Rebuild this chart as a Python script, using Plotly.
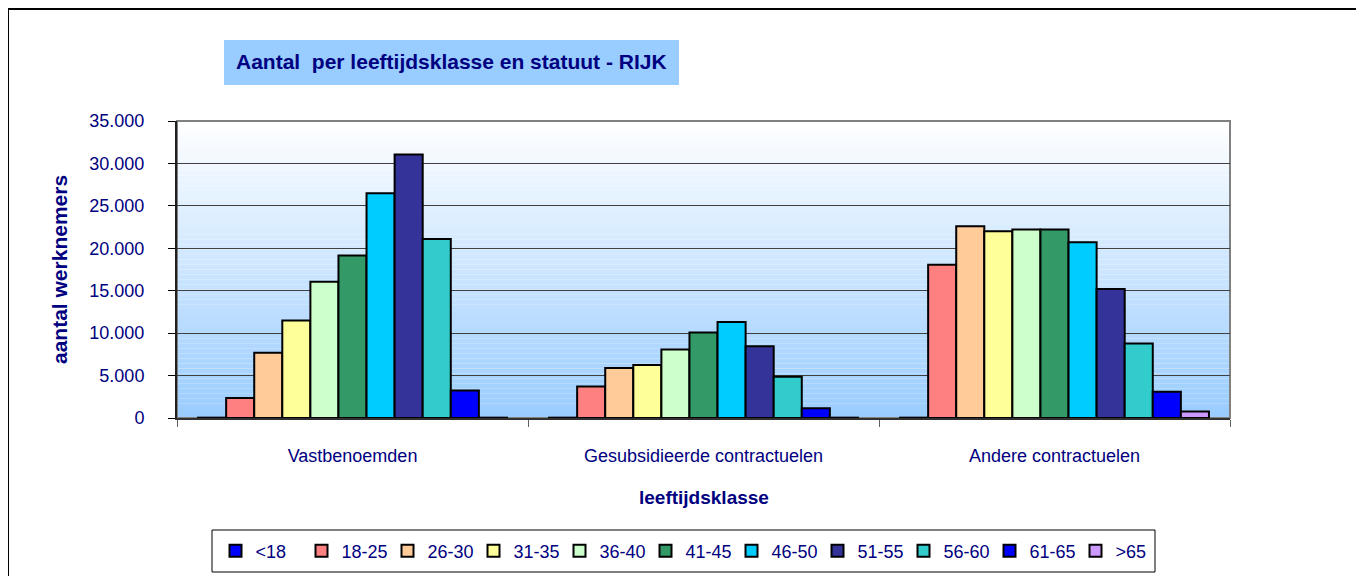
import plotly.graph_objects as go

categories = ["Vastbenoemden", "Gesubsidieerde contractuelen", "Andere contractuelen"]
age_classes = ["<18", "18-25", "26-30", "31-35", "36-40", "41-45", "46-50", "51-55", "56-60", "61-65", ">65"]
values = {
    "<18":   [40, 40, 40],
    "18-25": [2350, 3700, 18050],
    "26-30": [7700, 5900, 22600],
    "31-35": [11500, 6250, 22000],
    "36-40": [16050, 8080, 22200],
    "41-45": [19150, 10080, 22200],
    "46-50": [26500, 11300, 20700],
    "51-55": [31050, 8470, 15200],
    "56-60": [21100, 4870, 8780],
    "61-65": [3250, 1150, 3080],
    ">65":   [40, 40, 760],
}
colors = ["#0000FF", "#FF8080", "#FFCC99", "#FFFF99", "#CCFFCC", "#339966",
          "#00CCFF", "#333399", "#33CCCC", "#0000FF", "#CC99FF"]

OFF = 8  # page body margin
W, H = 1364, 576
L, R, T, B = 177, 1230, 121, 418
NAVY = "#000080"
FONT = "Arial, Liberation Sans, sans-serif"

def px2x(px):
    return (px - L) / (R - L)

def py2y(py):
    return (B - py) / (B - T)

fig = go.Figure()
for age, col in zip(age_classes, colors):
    fig.add_trace(go.Bar(
        name=age, x=categories, y=values[age],
        marker=dict(color=col, line=dict(color="black", width=2)),
    ))

shapes = []
n = 60
def lerp(a, b, t):
    return int(round(a + (b - a) * t))
for i in range(n):
    t = (i + 0.5) / n
    c = "rgb(%d,%d,%d)" % (lerp(255, 153, t), lerp(255, 204, t), lerp(255, 255, t))
    shapes.append(dict(type="rect", xref="x domain", yref="y domain",
                       x0=0, x1=1, y0=1 - (i + 1) / n, y1=1 - i / n,
                       fillcolor=c, line=dict(width=0), layer="below"))
shapes.append(dict(type="rect", xref="x domain", yref="y domain", x0=0, x1=1, y0=0, y1=1,
                   line=dict(color="#808080", width=2), layer="below"))
shapes.append(dict(type="rect", xref="paper", yref="paper",
                   x0=px2x(8), x1=px2x(1361), y0=py2y(640), y1=py2y(9),
                   line=dict(color="black", width=2)))
shapes.append(dict(type="rect", xref="paper", yref="paper",
                   x0=px2x(224), x1=px2x(679), y0=py2y(85), y1=py2y(40),
                   fillcolor="#99CCFF", line=dict(width=0)))
shapes.append(dict(type="rect", xref="paper", yref="paper",
                   x0=px2x(212), x1=px2x(1155), y0=py2y(572), y1=py2y(530),
                   fillcolor="white", line=dict(color="black", width=1)))

annotations = [
    dict(text="<b>Aantal  per leeftijdsklasse en statuut - RIJK</b>", xref="paper", yref="paper",
         x=px2x(452), y=py2y(62), showarrow=False, xanchor="center", yanchor="middle",
         font=dict(family=FONT, size=21, color=NAVY)),
    dict(text="<b>aantal werknemers</b>", xref="paper", yref="paper",
         x=px2x(59), y=py2y(270), showarrow=False, textangle=-90,
         xanchor="center", yanchor="middle",
         font=dict(family=FONT, size=21, color=NAVY)),
    dict(text="<b>leeftijdsklasse</b>", xref="paper", yref="paper",
         x=px2x(704), y=py2y(497), showarrow=False, xanchor="center", yanchor="middle",
         font=dict(family=FONT, size=19, color=NAVY)),
]

fig.update_layout(
    width=W - OFF, height=H - OFF,
    margin=dict(l=L - OFF, r=W - R, t=T - OFF, b=H - B, autoexpand=False),
    paper_bgcolor="white", plot_bgcolor="rgba(0,0,0,0)",
    barmode="group", bargap=0.12, bargroupgap=0,
    separators=",.",
    font=dict(family=FONT, color=NAVY),
    shapes=shapes, annotations=annotations,
    showlegend=True,
    legend=dict(orientation="h", x=px2x(688.5), xanchor="center",
                y=py2y(551), yanchor="middle",
                bgcolor="rgba(0,0,0,0)", borderwidth=0,
                font=dict(family=FONT, size=18, color=NAVY),
                entrywidth=41, itemwidth=30, traceorder="normal"),
)
fig.update_yaxes(range=[0, 35000], dtick=5000, tickformat=",d",
                 showgrid=True, gridcolor="#404040", gridwidth=1,
                 showline=True, linecolor="#202020", linewidth=2,
                 ticks="outside", ticklen=7, tickcolor="black", tickwidth=1,
                 ticklabelstandoff=20,
                 tickfont=dict(family=FONT, size=18, color=NAVY),
                 zeroline=False, layer="above traces")
fig.update_xaxes(showline=True, linecolor="#303030", linewidth=2,
                 ticks="outside", tickson="boundaries", ticklen=7, tickcolor="#606060",
                 ticklabelstandoff=20,
                 tickfont=dict(family=FONT, size=18, color=NAVY),
                 showgrid=False)

fig.write_html("out.html")
